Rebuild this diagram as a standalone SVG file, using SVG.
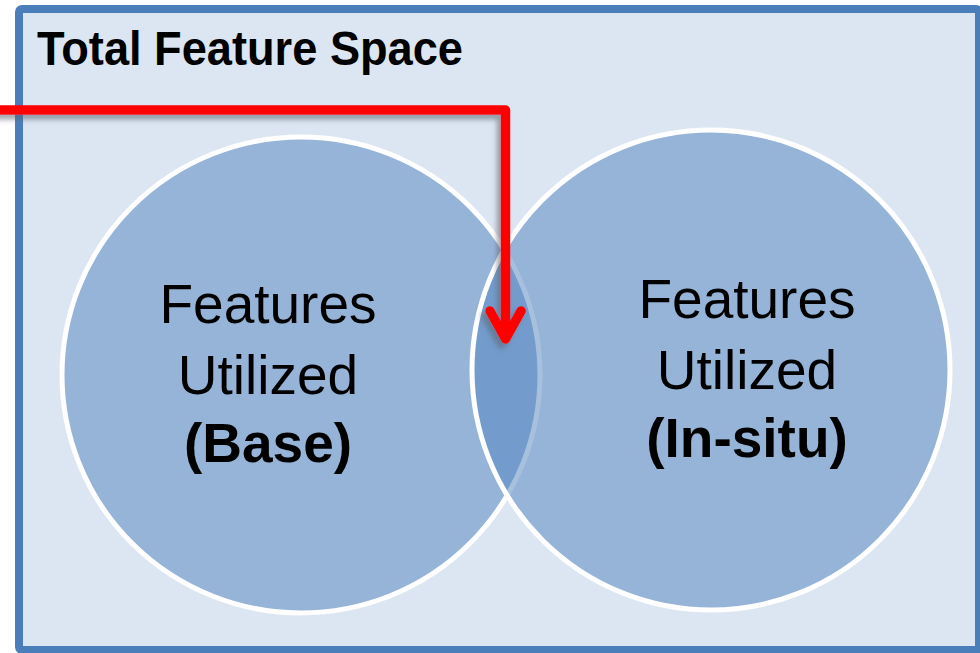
<svg xmlns="http://www.w3.org/2000/svg" width="980" height="653" viewBox="0 0 980 653">
  <defs>
    <style>
      .set { fill: #4F81BD; fill-opacity: 0.5; stroke: #FFFFFF; stroke-width: 5; }
      .label { font-family: "Liberation Sans", Arial, sans-serif; font-size: 55px; fill: #000000; text-anchor: middle; }
      .bold { font-weight: bold; }
      .title { font-family: "Liberation Sans", Arial, sans-serif; font-size: 48px; font-weight: bold; fill: #000000; }
      .pointer { fill: none; stroke: #FF0000; stroke-width: 9.5; stroke-linecap: round; stroke-linejoin: round; }
    </style>
    <filter id="dropShadow" x="-10%" y="-10%" width="130%" height="140%">
      <feGaussianBlur in="SourceAlpha" stdDeviation="2.5" result="blur"/>
      <feOffset in="blur" dx="-4" dy="5" result="offset"/>
      <feFlood flood-color="#5a6470" flood-opacity="0.55"/>
      <feComposite in2="offset" operator="in" result="shadow"/>
      <feMerge>
        <feMergeNode in="shadow"/>
        <feMergeNode in="SourceGraphic"/>
      </feMerge>
    </filter>
  </defs>

  <!-- outer frame: total feature space -->
  <g id="total-space">
    <rect x="19" y="9" width="960" height="641" rx="3" fill="#DCE6F2" stroke="#4A7EBB" stroke-width="8"/>
    <text class="title" x="37" y="65" textLength="426" lengthAdjust="spacingAndGlyphs">Total Feature Space</text>
  </g>

  <!-- base feature set -->
  <g id="base-set">
    <ellipse class="set" cx="301" cy="375" rx="239" ry="238"/>
  </g>

  <!-- in-situ feature set, drawn on top so the overlap darkens -->
  <g id="insitu-set">
    <ellipse class="set" cx="711" cy="370" rx="239" ry="240"/>
  </g>

  <g id="base-label">
    <text class="label" x="268" y="323">Features</text>
    <text class="label" x="268" y="394">Utilized</text>
    <text class="label bold" x="268" y="462">(Base)</text>
  </g>

  <g id="insitu-label">
    <text class="label" x="747" y="318">Features</text>
    <text class="label" x="747" y="389">Utilized</text>
    <text class="label bold" x="747" y="457">(In-situ)</text>
  </g>

  <!-- pointer into the overlap -->
  <g id="connectors" filter="url(#dropShadow)">
    <path class="pointer" d="M -10 110 H 505.5 V 338"/>
    <path class="pointer" d="M 490 311 L 505.5 339 L 521 311"/>
  </g>
</svg>
